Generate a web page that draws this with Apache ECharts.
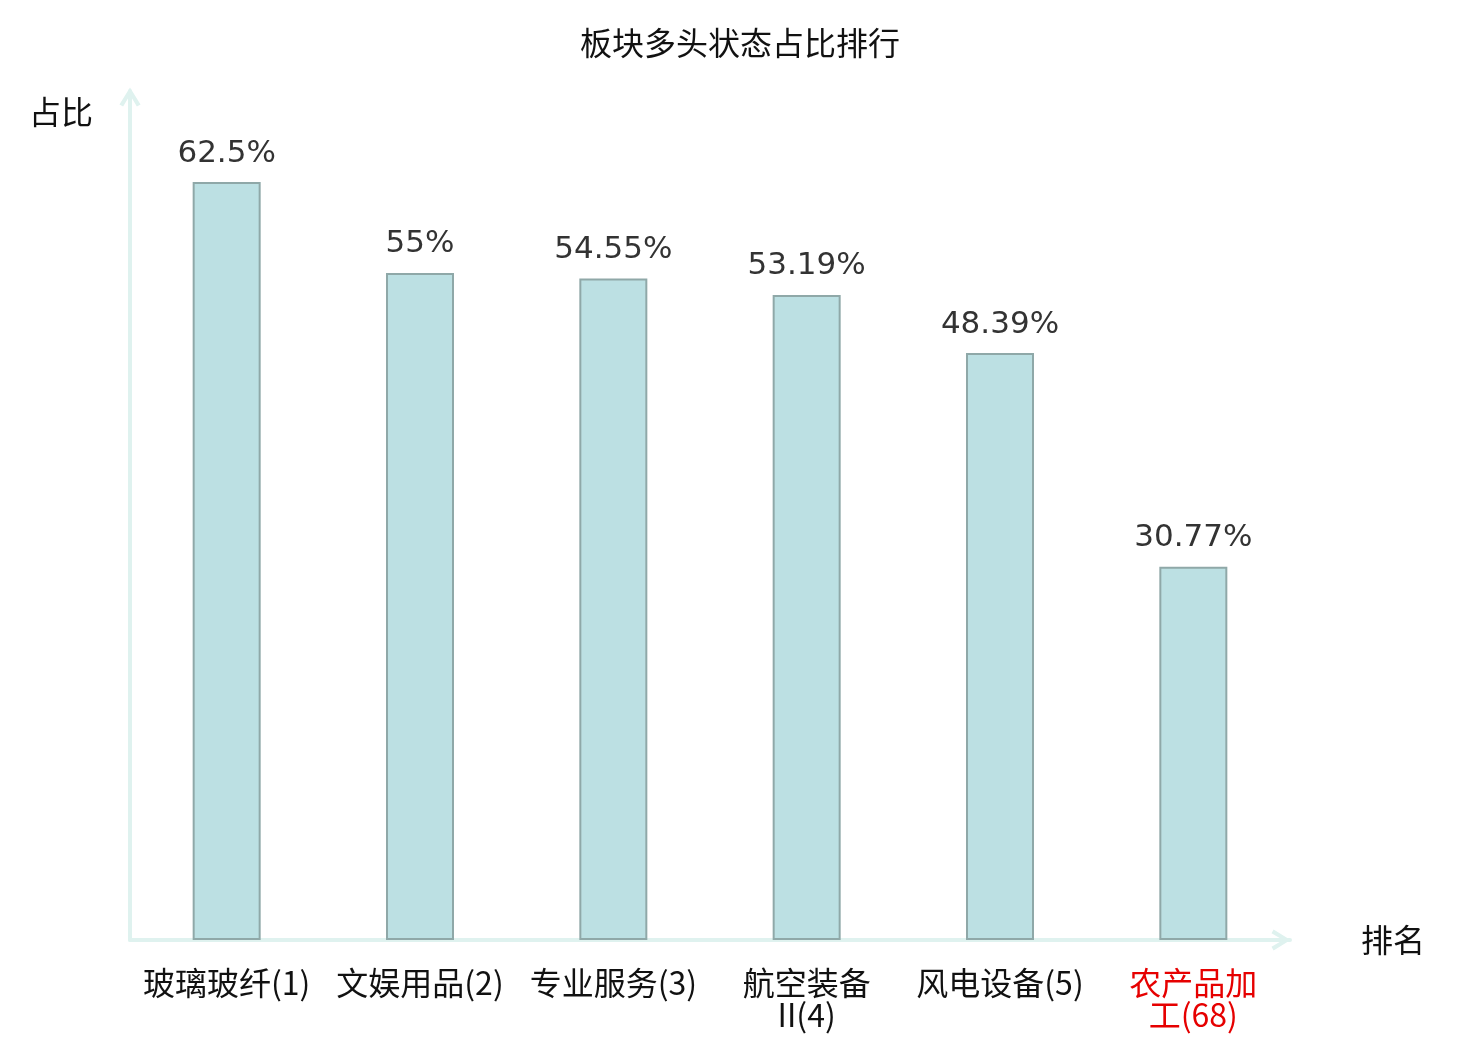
<!DOCTYPE html>
<html>
<head>
<meta charset="UTF-8" />
<title>板块多头状态占比排行</title>
<style>
* { margin: 0; padding: 0; }
html, body { width: 100%; height: 100%; background: #fff; }
#main { width: 1480px; height: 1040px; }
</style>
</head>
<body>
<div id="main"></div>
<script src="https://cdn.jsdelivr.net/npm/echarts@6/dist/echarts.min.js"></script>
<script>
// 板块名称(排名)
let sectors = ['玻璃玻纤(1)', '文娱用品(2)', '专业服务(3)', '航空装备\nII(4)', '风电设备(5)', '农产品加\n工(68)']
// 多头状态占比 %
let ratios = [62.5, 55, 54.55, 53.19, 48.39, 30.77]
let highlightIndex = 5

let axisColor = '#dff2ef'
let font = "'DejaVu Sans', 'Noto Sans CJK SC', sans-serif"
let cjkFont = "'Noto Sans CJK SC', sans-serif"
// 开口箭头
let arrow = 'path://M0,16 L10,0 L20,16 L16.5,18 L10,7 L3.5,18 Z'

let chart = echarts.init(document.getElementById('main'))

let option = {
  backgroundColor: '#fff',
  title: {
    text: '板块多头状态占比排行',
    left: 'center',
    top: 22,
    textStyle: {
      color: '#111',
      fontSize: 32,
      fontWeight: 'normal',
      fontFamily: cjkFont
    }
  },
  grid: {
    left: 130,
    right: 190,
    top: 91,
    bottom: 100,
    containLabel: false
  },
  xAxis: {
    type: 'category',
    data: sectors,
    name: '排名',
    nameLocation: 'end',
    nameGap: 71,
    nameTextStyle: {
      color: '#111',
      fontSize: 32,
      fontFamily: cjkFont,
      verticalAlign: 'middle',
      padding: [4, 0, 0, 0]
    },
    axisLine: {
      show: true,
      symbol: ['none', arrow],
      symbolSize: [24, 19],
      symbolOffset: [0, -9],
      lineStyle: { color: axisColor, width: 4 }
    },
    axisTick: { show: false },
    axisLabel: {
      interval: 0,
      margin: 27,
      fontSize: 32,
      lineHeight: 32,
      fontFamily: cjkFont,
      color: function (value, index) {
        return index === highlightIndex ? '#e60000' : '#111'
      }
    }
  },
  yAxis: {
    type: 'value',
    min: 0,
    max: 70,
    name: '占比',
    nameLocation: 'end',
    nameGap: -21,
    nameTextStyle: {
      color: '#111',
      fontSize: 32,
      fontFamily: cjkFont,
      align: 'right',
      verticalAlign: 'middle',
      padding: [0, 37, 0, 0]
    },
    axisLine: {
      show: true,
      symbol: ['none', arrow],
      symbolSize: [24, 19],
      symbolOffset: [0, -6],
      lineStyle: { color: axisColor, width: 4 }
    },
    axisTick: { show: false },
    axisLabel: { show: false },
    splitLine: { show: false }
  },
  series: [
    {
      type: 'bar',
      data: ratios,
      barWidth: 68,
      itemStyle: {
        color: '#bce0e3',
        borderColor: '#8fa8a8',
        borderWidth: 2
      },
      label: {
        show: true,
        position: 'top',
        distance: 13,
        fontSize: 31,
        fontFamily: font,
        color: '#333',
        formatter: '{c}%'
      }
    }
  ]
}

chart.setOption(option)
</script>
</body>
</html>
